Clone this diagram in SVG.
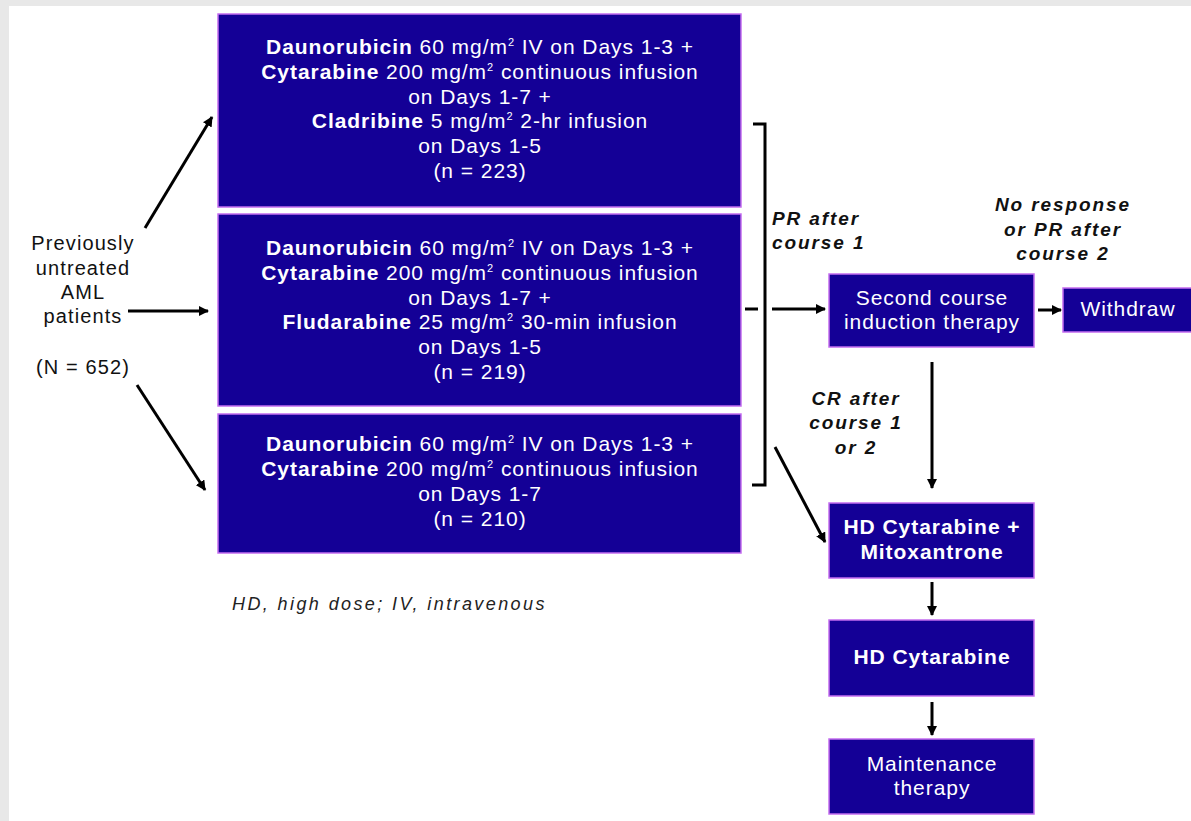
<svg xmlns="http://www.w3.org/2000/svg" width="1191" height="821" viewBox="0 0 1191 821">
<style>
.box{fill:#140096;stroke:#c46cf0;stroke-width:1.5}
.bt{font-family:"Liberation Sans",Arial,sans-serif;font-size:21px;fill:#fff;text-anchor:middle;letter-spacing:0.95px}
.b{font-weight:bold}
.sup{font-size:11px}
.lt{font-family:"Liberation Sans",Arial,sans-serif;font-size:20px;fill:#111;text-anchor:middle;letter-spacing:1.1px}
.it{font-family:"Liberation Sans",Arial,sans-serif;font-size:19px;fill:#111;font-style:italic;font-weight:bold;letter-spacing:1.9px}
.fn{font-family:"Liberation Sans",Arial,sans-serif;font-size:18px;fill:#222;font-style:italic;letter-spacing:2.4px}
.ln{stroke:#000;stroke-width:3;fill:none}
</style>
<defs>
<marker id="ah" viewBox="0 0 10 10" refX="9" refY="5" markerWidth="3.4" markerHeight="3.4" markerUnits="strokeWidth" orient="auto">
<path d="M0,0 L10,5 L0,10 z" fill="#000"/>
</marker>
</defs>
<rect x="0" y="0" width="1191" height="821" fill="#fff"/>
<rect x="0" y="0" width="1191" height="6" fill="#e8e8e8"/>
<rect x="0" y="0" width="9" height="821" fill="#e8e8e8"/>

<g id="connectors">
<line class="ln" x1="145" y1="228" x2="212" y2="117" marker-end="url(#ah)"/>
<line class="ln" x1="128" y1="311" x2="208" y2="311" marker-end="url(#ah)"/>
<line class="ln" x1="137" y1="385" x2="205" y2="490" marker-end="url(#ah)"/>
<polyline class="ln" points="753,124 765,124 765,485 752,485"/>
<line class="ln" x1="745" y1="309" x2="758" y2="309"/>
<line class="ln" x1="772" y1="309" x2="825" y2="309" marker-end="url(#ah)"/>
<line class="ln" x1="1038" y1="310" x2="1061" y2="310" marker-end="url(#ah)"/>
<line class="ln" x1="932" y1="362" x2="932" y2="488" marker-end="url(#ah)"/>
<line class="ln" x1="775" y1="447" x2="825" y2="542" marker-end="url(#ah)"/>
<line class="ln" x1="932" y1="582" x2="932" y2="615" marker-end="url(#ah)"/>
<line class="ln" x1="932" y1="702" x2="932" y2="735" marker-end="url(#ah)"/>
</g>

<g id="source">
<text class="lt" x="83" y="250">Previously</text>
<text class="lt" x="83" y="275">untreated</text>
<text class="lt" x="83" y="299">AML</text>
<text class="lt" x="83" y="323">patients</text>
<text class="lt" x="83" y="374">(N = 652)</text>
</g>

<g id="arm-cladribine">
<rect class="box" x="218" y="14" width="523" height="193"/>
<text class="bt" x="480" y="54"><tspan class="b">Daunorubicin</tspan> 60 mg/m<tspan class="sup" dy="-8">2</tspan><tspan dy="8"> IV on Days 1-3 +</tspan></text>
<text class="bt" x="480" y="79"><tspan class="b">Cytarabine</tspan> 200 mg/m<tspan class="sup" dy="-8">2</tspan><tspan dy="8"> continuous infusion</tspan></text>
<text class="bt" x="480" y="104">on Days 1-7 +</text>
<text class="bt" x="480" y="128"><tspan class="b">Cladribine</tspan> 5 mg/m<tspan class="sup" dy="-8">2</tspan><tspan dy="8"> 2-hr infusion</tspan></text>
<text class="bt" x="480" y="153">on Days 1-5</text>
<text class="bt" x="480" y="178">(n = 223)</text>
</g>

<g id="arm-fludarabine">
<rect class="box" x="218" y="214" width="523" height="192"/>
<text class="bt" x="480" y="255"><tspan class="b">Daunorubicin</tspan> 60 mg/m<tspan class="sup" dy="-8">2</tspan><tspan dy="8"> IV on Days 1-3 +</tspan></text>
<text class="bt" x="480" y="280"><tspan class="b">Cytarabine</tspan> 200 mg/m<tspan class="sup" dy="-8">2</tspan><tspan dy="8"> continuous infusion</tspan></text>
<text class="bt" x="480" y="305">on Days 1-7 +</text>
<text class="bt" x="480" y="329"><tspan class="b">Fludarabine</tspan> 25 mg/m<tspan class="sup" dy="-8">2</tspan><tspan dy="8"> 30-min infusion</tspan></text>
<text class="bt" x="480" y="354">on Days 1-5</text>
<text class="bt" x="480" y="379">(n = 219)</text>
</g>

<g id="arm-standard">
<rect class="box" x="218" y="414" width="523" height="139"/>
<text class="bt" x="480" y="451"><tspan class="b">Daunorubicin</tspan> 60 mg/m<tspan class="sup" dy="-8">2</tspan><tspan dy="8"> IV on Days 1-3 +</tspan></text>
<text class="bt" x="480" y="476"><tspan class="b">Cytarabine</tspan> 200 mg/m<tspan class="sup" dy="-8">2</tspan><tspan dy="8"> continuous infusion</tspan></text>
<text class="bt" x="480" y="501">on Days 1-7</text>
<text class="bt" x="480" y="526">(n = 210)</text>
</g>

<g id="labels">
<text class="it" x="772" y="225">PR after</text>
<text class="it" x="772" y="249">course 1</text>
<text class="it" x="1063" y="211" text-anchor="middle">No response</text>
<text class="it" x="1063" y="236" text-anchor="middle">or PR after</text>
<text class="it" x="1063" y="260" text-anchor="middle">course 2</text>
<text class="it" x="856" y="405" text-anchor="middle">CR after</text>
<text class="it" x="856" y="429" text-anchor="middle">course 1</text>
<text class="it" x="856" y="454" text-anchor="middle">or 2</text>
</g>

<g id="second-course">
<rect class="box" x="829" y="274" width="205" height="73"/>
<text class="bt" x="932" y="305">Second course</text>
<text class="bt" x="932" y="329">induction therapy</text>
</g>

<g id="withdraw">
<rect class="box" x="1063" y="288" width="135" height="44"/>
<text class="bt" x="1128" y="316">Withdraw</text>
</g>

<g id="hd-cyt-mito">
<rect class="box" x="829" y="503" width="205" height="75"/>
<text class="bt b" x="932" y="534">HD Cytarabine +</text>
<text class="bt b" x="932" y="559">Mitoxantrone</text>
</g>

<g id="hd-cyt">
<rect class="box" x="829" y="620" width="205" height="76"/>
<text class="bt b" x="932" y="664">HD Cytarabine</text>
</g>

<g id="maintenance">
<rect class="box" x="829" y="739" width="205" height="75"/>
<text class="bt" x="932" y="771">Maintenance</text>
<text class="bt" x="932" y="795">therapy</text>
</g>

<text class="fn" x="232" y="610">HD, high dose; IV, intravenous</text>
</svg>
